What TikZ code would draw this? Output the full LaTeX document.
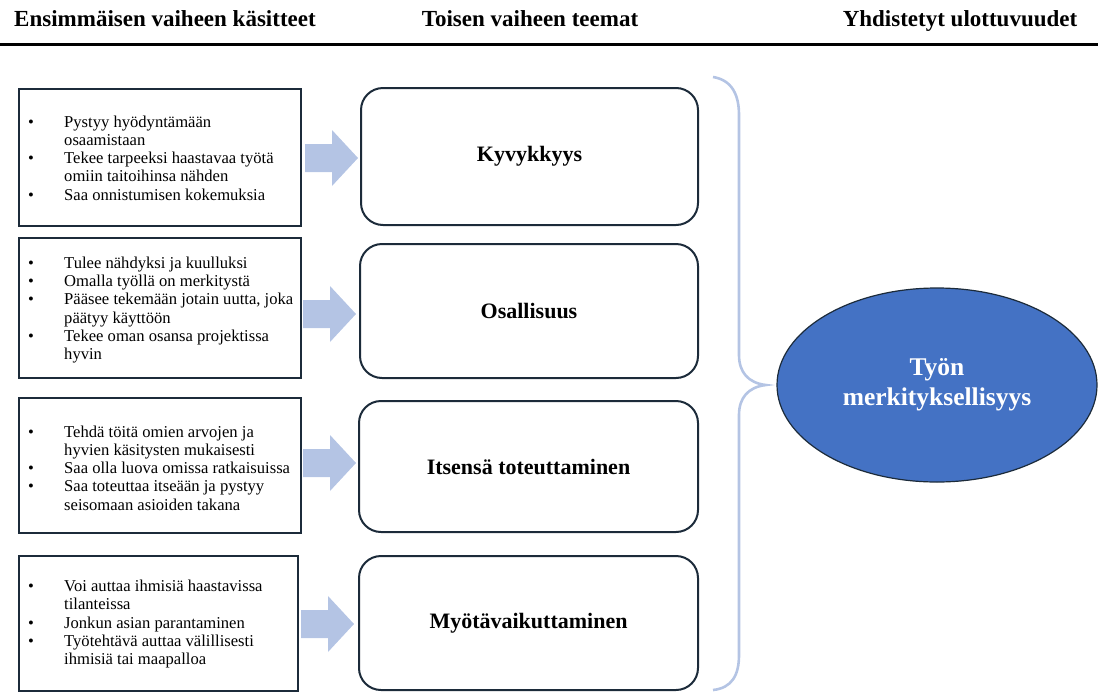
\documentclass[tikz,border=0pt]{standalone}
\usepackage{fontspec}
\setmainfont{Liberation Serif}
\usetikzlibrary{calc,shapes.geometric}
\definecolor{edge}{HTML}{1C2B3A}
\definecolor{paleblue}{HTML}{B4C4E4}
\definecolor{fillblue}{HTML}{4472C4}

% block arrow pointing right, tip at the given coordinate
\newcommand\blockarrow[1]{%
  \fill[paleblue] ($(#1)+(-53,-14)$) -- ($(#1)+(-26,-14)$) -- ($(#1)+(-26,-28)$)
    -- (#1) -- ($(#1)+(-26,28)$) -- ($(#1)+(-26,14)$) -- ($(#1)+(-53,14)$) -- cycle;}
\newcommand\bul{\makebox[37pt][l]{\hspace{1pt}\textbullet}}
\newcommand\ind{\makebox[37pt]{}}

\begin{document}
\begin{tikzpicture}[x=1pt,y=-1pt,
  header/.style={anchor=base, font=\fontsize{23}{25}\selectfont\bfseries},
  listbox/.style={draw=edge, line width=1.8pt, anchor=north west, inner sep=0pt},
  listtext/.style={anchor=west, inner sep=0pt, font=\fontsize{16.6}{18.2}\selectfont},
  theme/.style={draw=edge, line width=2pt, rounded corners=22pt, anchor=north west,
    inner sep=0pt},
  themelabel/.style={font=\fontsize{22}{24}\selectfont\bfseries},
  brace/.style={draw=paleblue, line width=2.6pt},
  goal/.style={ellipse, draw=edge, line width=1.2pt, fill=fillblue, text=white,
    minimum width=320, minimum height=194, align=center, inner sep=0pt,
    font=\fontsize{25.5}{30}\selectfont\bfseries}]
\useasboundingbox (0,0) rectangle (1098,691);

% column headings and rule
\node[header] (h1) at (165,26) {Ensimmäisen vaiheen käsitteet};
\node[header] (h2) at (530,26) {Toisen vaiheen teemat};
\node[header] (h3) at (960,26) {Yhdistetyt ulottuvuudet};
\draw[line width=3pt] (0,44) -- (1098,44);

% first-phase concept boxes
\node[listbox, minimum width=282, minimum height=137] (l1) at (18,88) {};
\node[listbox, minimum width=282, minimum height=140] (l2) at (18,237) {};
\node[listbox, minimum width=282, minimum height=135] (l3) at (18,397) {};
\node[listbox, minimum width=279, minimum height=135] (l4) at (18,555) {};

\node[listtext, align=left] (x1) at (27,158) {%
  \bul Pystyy hyödyntämään\\ \ind osaamistaan\\
  \bul Tekee tarpeeksi haastavaa työtä\\ \ind omiin taitoihinsa nähden\\
  \bul Saa onnistumisen kokemuksia};
\node[listtext, align=left] (x2) at (27,310) {%
  \bul Tulee nähdyksi ja kuulluksi\\
  \bul Omalla työllä on merkitystä\\
  \bul Pääsee tekemään jotain uutta, joka\\ \ind päätyy käyttöön\\
  \bul Tekee oman osansa projektissa\\ \ind hyvin};
\node[listtext, align=left] (x3) at (27,468) {%
  \bul Tehdä töitä omien arvojen ja\\ \ind hyvien käsitysten mukaisesti\\
  \bul Saa olla luova omissa ratkaisuissa\\
  \bul Saa toteuttaa itseään ja pystyy\\ \ind seisomaan asioiden takana};
\node[listtext, align=left] (x4) at (27,624) {%
  \bul Voi auttaa ihmisiä haastavissa\\ \ind tilanteissa\\
  \bul Jonkun asian parantaminen\\
  \bul Työtehtävä auttaa välillisesti\\ \ind ihmisiä tai maapalloa};

% second-phase theme boxes
\node[theme, minimum width=337, minimum height=137] (t1) at (360,87) {};
\node[theme, minimum width=338, minimum height=134] (t2) at (359,243) {};
\node[theme, minimum width=339, minimum height=131] (t3) at (358,400) {};
\node[theme, minimum width=339, minimum height=134] (t4) at (358,555) {};
\node[themelabel] (k1) at (t1.center) {Kyvykkyys};
\node[themelabel] (k2) at (t2.center) {Osallisuus};
\node[themelabel] (k3) at (t3.center) {Itsensä toteuttaminen};
\node[themelabel] (k4) at (t4.center) {Myötävaikuttaminen};

% arrows from concepts to themes
\coordinate (a1) at (358,158);
\coordinate (a2) at (356,314);
\coordinate (a3) at (356,463);
\coordinate (a4) at (354,624);
\blockarrow{a1}
\blockarrow{a2}
\blockarrow{a3}
\blockarrow{a4}

% brace gathering the themes
\draw[brace] (713,77) .. controls (732,80) and (739,95) .. (739,115) -- (739,355)
  .. controls (739,372) and (748,383) .. (766,385)
  .. controls (748,387) and (739,398) .. (739,415) -- (739,655)
  .. controls (739,675) and (732,688) .. (713,690);

% combined dimension
\node[goal] (g) at (937,385) {Työn\\merkityksellisyys};
\end{tikzpicture}
\end{document}
